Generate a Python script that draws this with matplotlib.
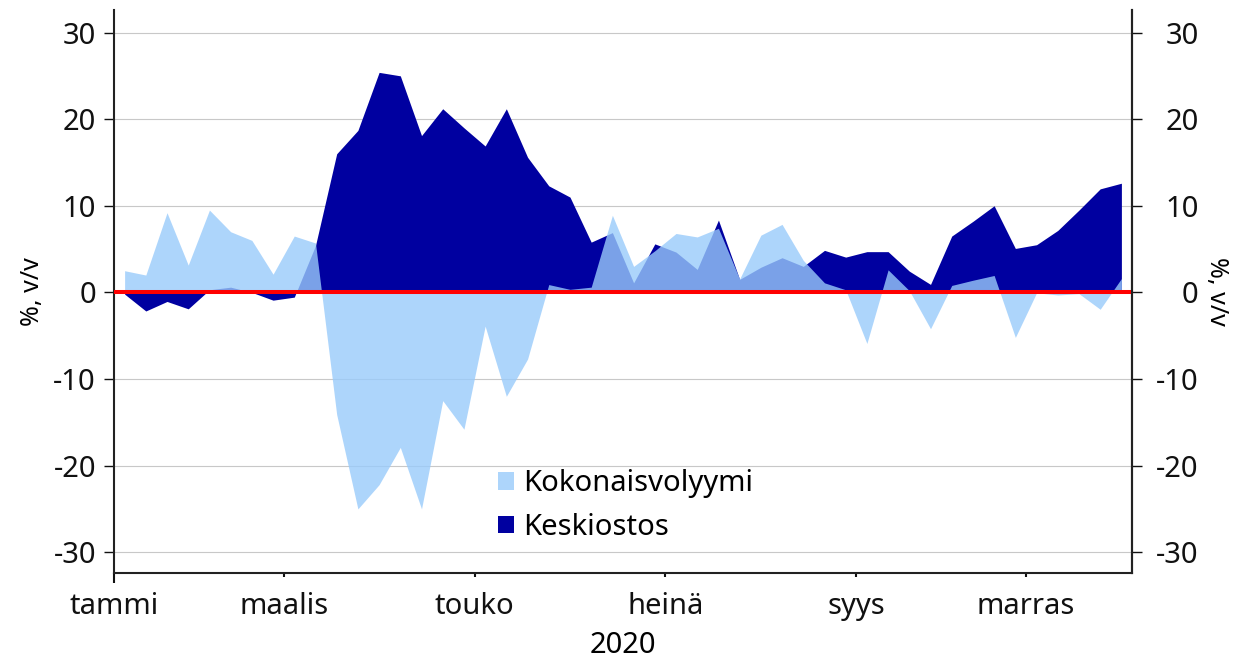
import numpy as np
import matplotlib
matplotlib.use("Agg")
import matplotlib.pyplot as plt
from matplotlib.patches import Patch

plt.rcParams['font.family'] = ['Noto Sans', 'DejaVu Sans']
plt.rcParams['axes.unicode_minus'] = False

# ---- data (weekly, 2020) ----
kokonaisvolyymi = [2.5, 2.0, 9.2, 3.15, 9.5, 7.0, 6.0, 2.1, 6.5, 5.7,
                   -14.1, -25.0, -22.2, -17.9, -25.0, -12.5, -15.8, -3.9, -12.0, -7.7,
                   0.9, 0.35, 0.6, 8.9, 3.0, 4.8, 6.8, 6.4, 7.4, 1.55,
                   6.6, 7.85, 3.7, 1.1, 0.3, -5.9, 2.6, 0.2, -4.2, 0.8,
                   1.4, 1.95, -5.2, -0.05, -0.3, -0.15, -1.95, 1.6]
keskiostos = [-0.2, -2.15, -1.05, -1.9, 0.3, 0.6, 0.0, -0.9, -0.55, 5.4,
              16.0, 18.7, 25.4, 25.0, 18.1, 21.2, 19.0, 16.9, 21.2, 15.6,
              12.3, 11.0, 5.8, 6.9, 1.1, 5.6, 4.65, 2.65, 8.35, 1.5,
              2.9, 4.0, 3.0, 4.85, 4.07, 4.7, 4.7, 2.45, 0.92, 6.5,
              8.2, 10.0, 5.07, 5.5, 7.15, 9.5, 11.95, 12.6]
month_labels = ['tammi', 'maalis', 'touko', 'heinä', 'syys', 'marras']
month_start_week = [0, 8, 17, 26, 35, 43]
year_label = '2020'
y_ticks = [-30, -20, -10, 0, 10, 20, 30]
series_names = ['Kokonaisvolyymi', 'Keskiostos']

LIGHT = '#99CBFB'
LIGHT_ALPHA = 0.8
DARK = '#0000A0'
FS = 21

n = len(keskiostos)
x = np.arange(n) + 0.5

fig = plt.figure(figsize=(12.38, 6.61), dpi=100)
ax = fig.add_axes([114/1238, 1-573/661, (1132-114)/1238, (573-10)/661])

ax.set_xlim(0, 48)
ax.set_ylim(-32.4, 32.6)

ax.yaxis.grid(True, color='#C8C8C8', lw=0.8, zorder=0)
ax.set_axisbelow(True)

ax.fill_between(x, 0, keskiostos, color=DARK, lw=0, zorder=2)
ax.fill_between(x, 0, kokonaisvolyymi, color=LIGHT, alpha=LIGHT_ALPHA, lw=0, zorder=3)
ax.axhline(0, color='#FF0000', lw=2.9, zorder=5)

for s in ['left', 'bottom', 'right']:
    ax.spines[s].set_linewidth(1.5)
    ax.spines[s].set_color('#222222')
ax.spines['top'].set_visible(False)

ax.set_yticks(y_ticks)
ax.tick_params(axis='y', direction='out', length=7, width=1, labelsize=FS, pad=6, colors='#111111')
ax.set_xticks(month_start_week)
ax.set_xticklabels(month_labels)
ax.tick_params(axis='x', direction='out', length=3, width=1.5, labelsize=FS, pad=11, colors='#111111')
ax.xaxis.get_major_ticks()[0].tick1line.set_markersize(7.5)
ax.set_xlabel(year_label, fontsize=FS, labelpad=7)
ax.set_ylabel('%, v/v', fontsize=18, labelpad=6)

ax2 = ax.twinx()
ax2.set_ylim(ax.get_ylim())
ax2.set_yticks(y_ticks)
ax2.tick_params(axis='y', direction='out', length=7, width=1, labelsize=FS, pad=41, colors='#111111')
for t in ax2.get_yticklabels():
    t.set_horizontalalignment('right')
for s in ['left', 'bottom', 'top']:
    ax2.spines[s].set_visible(False)
ax2.spines['right'].set_linewidth(1.5)
ax2.spines['right'].set_color('#222222')
ax2.set_ylabel('%, v/v', fontsize=18, rotation=270, labelpad=22)

handles = [Patch(facecolor=LIGHT, alpha=LIGHT_ALPHA, edgecolor='none'),
           Patch(facecolor=DARK, edgecolor='none')]
leg = ax.legend(handles, series_names, loc='upper left', bbox_to_anchor=(0.366, 0.205),
                frameon=False, fontsize=FS, handlelength=0.55, handleheight=0.55,
                handletextpad=0.3, labelspacing=0.5, borderaxespad=0)

fig.savefig('out.png', dpi=100)
